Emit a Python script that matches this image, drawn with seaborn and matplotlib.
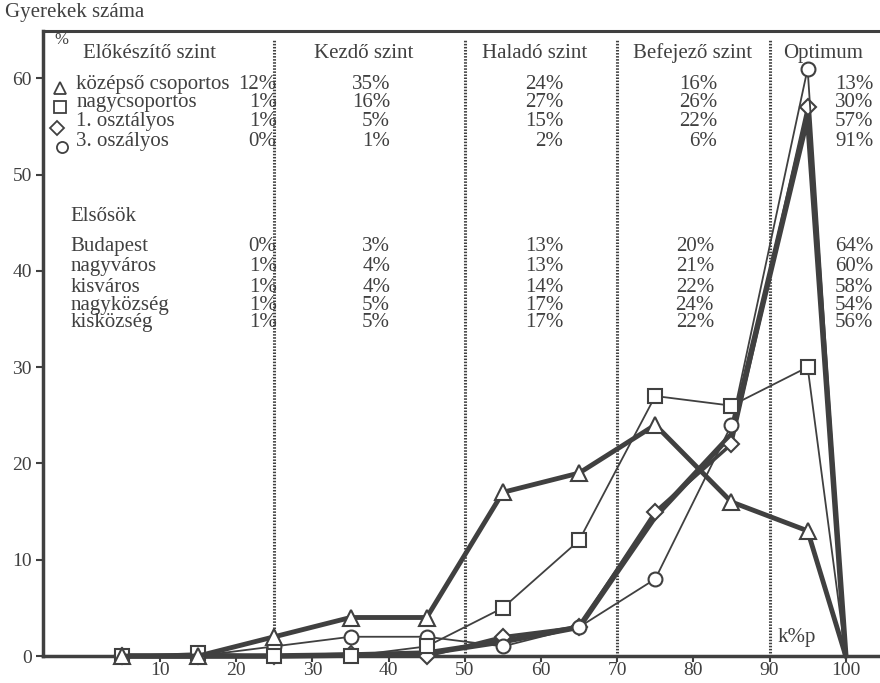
import matplotlib
matplotlib.use("Agg")
import matplotlib.pyplot as plt
import seaborn as sns
import pandas as pd

# ---- data ----
x_vals = [5, 15, 25, 35, 45, 55, 65, 75, 85, 95, 100]
kozepso = [0, 0, 2, 4, 4, 17, 19, 24, 16, 13, 0]
nagycsoportos = [0, 0.3, 0, 0, 1, 5, 12, 27, 26, 30, 0]
elso_osztaly = [0, 0, 0, 0.2, 0, 2, 3, 15, 22, 57, 0]
harmadik = [0, 0, 1, 2, 2, 1, 3, 8, 24, 61, 0]
elsosok = [0, 0, 0, 0.1, 0.3, 1.5, 3, 14.5, 23, 56, 0]

level_names = ["Kezdő szint", "Haladó szint", "Befejező szint", "Optimum"]
level_bounds = [25, 50, 70, 90]

group_labels = ["középső csoportos", "nagycsoportos", "1. osztályos", "3. oszályos"]
group_pcts = [["12%", "35%", "24%", "16%", "13%"],
              ["1%", "16%", "27%", "26%", "30%"],
              ["1%", "5%", "15%", "22%", "57%"],
              ["0%", "1%", "2%", "6%", "91%"]]
elso_labels = ["Budapest", "nagyváros", "kisváros", "nagyközség", "kisközség"]
elso_pcts = [["0%", "3%", "13%", "20%", "64%"],
             ["1%", "4%", "13%", "21%", "60%"],
             ["1%", "4%", "14%", "22%", "58%"],
             ["1%", "5%", "17%", "24%", "54%"],
             ["1%", "5%", "17%", "22%", "56%"]]

# ---- style ----
sns.set_style("ticks")
plt.rcParams['font.family'] = ['Liberation Serif', 'DejaVu Serif']
C = "#404040"
FS = 15

fig = plt.figure(figsize=(8.8, 6.83), dpi=100)
ax = fig.add_axes([0.049, 0.0395, 0.951, 0.915])


def draw(y, lw, marker, ms, mew=1.5):
    d = pd.DataFrame({"x": x_vals, "y": y})
    sns.lineplot(data=d, x="x", y="y", ax=ax, color=C, lw=lw, marker=marker,
                 markersize=ms, markerfacecolor="white", markeredgecolor=C,
                 markeredgewidth=mew, markevery=list(range(10)), clip_on=False,
                 zorder=3)

# dotted level separators
for b in level_bounds:
    ax.axvline(b, ymin=0, ymax=0.985, color=C, lw=2.2, ls=(0, (0.5, 0.5)), zorder=1)

draw(elsosok, 4.0, None, 0)
draw(elso_osztaly, 2.5, "D", 8.5)
draw(harmadik, 1.3, "o", 10)
draw(nagycsoportos, 1.3, "s", 9.5)
draw(kozepso, 3.5, "^", 11.5)

ax.set_xlim(-5.35, 104.5)
ax.set_ylim(0, 64.9)
ax.set_xticks(range(10, 101, 10))
ax.set_yticks(range(0, 61, 10))
ax.set_xlabel("")
ax.set_ylabel("")
ax.tick_params(colors=C, labelsize=14, width=1.5, length=5, pad=3)
ax.tick_params(axis="x", length=4, pad=0.5)
for lab in ax.get_xticklabels() + ax.get_yticklabels():
    lab.set_color(C)
ax.spines["right"].set_visible(False)
for s in ["left", "bottom", "top"]:
    ax.spines[s].set_color(C)
ax.spines["left"].set_linewidth(2.5)
ax.spines["bottom"].set_linewidth(2.5)
ax.spines["top"].set_linewidth(2.2)

fig.text(0.006, 0.982, "Gyerekek száma", fontsize=FS, color=C, va="center", ha="left")

# headers
ax.text(-3.9, 64.0, "%", fontsize=12, color=C, ha="left", va="center")
ax.text(-0.1, 62.6, "Előkészítő szint", fontsize=FS, color=C, ha="left", va="center")
header_x = [36.7, 59.1, 79.9, 97.0]
for name, hx in zip(level_names, header_x):
    ax.text(hx, 62.6, name, fontsize=FS, color=C, ha="center", va="center")

col_right = [25.3, 40.2, 62.9, 83.1, 103.6]
row_y = [59.4, 57.5, 55.5, 53.4]
mark_y = [59.0, 57.0, 54.8, 52.9]
mark_x = [-3.1, -3.1, -3.5, -2.9]
mk = ["^", "s", "D", "o"]
mks = [8.5, 8, 7, 8]
for i, lab in enumerate(group_labels):
    ax.text(-1.0, row_y[i], lab, fontsize=FS, color=C, ha="left", va="center")
    for j, p in enumerate(group_pcts[i]):
        ax.text(col_right[j], row_y[i], p, fontsize=FS, color=C, ha="right", va="center")
    ax.plot([mark_x[i]], [mark_y[i]], marker=mk[i], ms=mks[i], mfc="white", mec=C,
            mew=1.3, ls="none", clip_on=False)

ax.text(-1.8, 45.6, "Elsősök", fontsize=FS, color=C, ha="left", va="center")
erow_y = [42.5, 40.4, 38.3, 36.4, 34.6]
ecol_right = [25.3, 40.2, 62.9, 82.7, 103.6]
for i, lab in enumerate(elso_labels):
    ax.text(-1.8, erow_y[i], lab, fontsize=FS, color=C, ha="left", va="center")
    for j, p in enumerate(elso_pcts[i]):
        ax.text(ecol_right[j], erow_y[i], p, fontsize=FS, color=C, ha="right", va="center")

ax.text(91.1, 1.9, "k%p", fontsize=FS, color=C, ha="left", va="center")

fig.savefig("out.png", dpi=100)
